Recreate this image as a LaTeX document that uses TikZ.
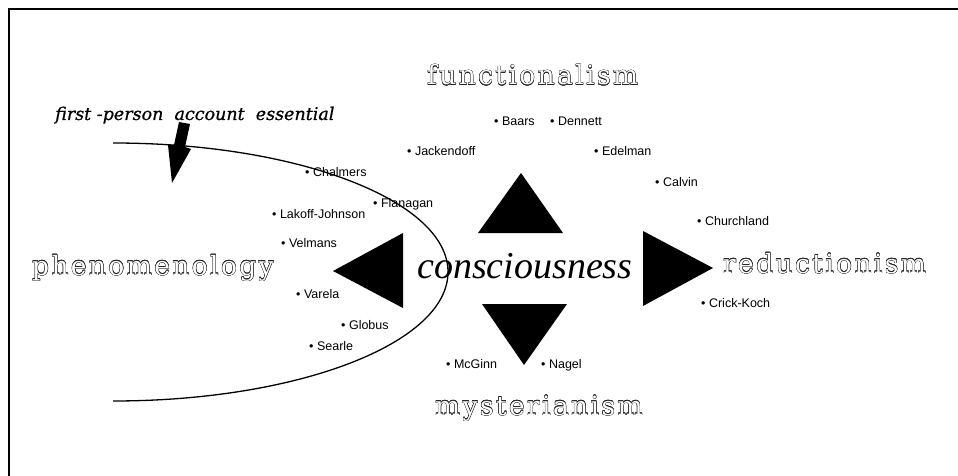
\documentclass[tikz,border=0pt]{standalone}
\usepackage{fontspec}
\usetikzlibrary{calc}
\newfontfamily\namefont{Liberation Sans}
\newfontfamily\outfont[LetterSpace=9]{DejaVu Serif}
\newfontfamily\consfont{Liberation Serif}
\newfontfamily\notefont{DejaVu Serif}[ItalicFeatures={FakeBold=0.7}]
\tikzset{
  person/.style={font=\namefont\fontsize{12.5}{14}\selectfont, anchor=base west, inner sep=0pt},
  oword/.style={font=\outfont\fontsize{26.5}{30}\selectfont, anchor=base west, inner sep=0pt},
  tri/.style={fill=black},
  frameline/.style={line width=2pt},
  oval/.style={line width=1.3pt},
}
\newcommand\outlineword[3]{%
  \foreach \ang in {0,30,...,330} {\node[oword,text=black!85] at ($(#2)+(\ang:0.35pt)$) {#3};}
  \node[oword,text=white] (#1) at (#2) {#3};}
\begin{document}
\begin{tikzpicture}[x=1pt,y=-1pt]
\useasboundingbox (0,0) rectangle (958,476);
\fill[white] (0,0) rectangle (958,476);
% frame (top and left only)
\draw[frameline] (958,9) -- (9,9) -- (9,476);
% half ellipse
\draw[oval] (113,143) arc[start angle=90,end angle=-90,x radius=335pt,y radius=129pt];
% note arrow
\fill (179,122) -- (190,124) -- (185,147) -- (191,149) -- (172,183) -- (168,145) -- (174,145) -- cycle;
\node[font=\notefont\itshape\fontsize{17.5}{20}\selectfont, anchor=base west, inner sep=0pt] (note) at (55,120) {first -person\ \ account\ \ essential};
% triangles
\fill[tri] (521,173) -- (478,233) -- (563,233) -- cycle;
\fill[tri] (482,304) -- (567,304) -- (524,365) -- cycle;
\fill[tri] (333,271) -- (403,233) -- (403,308) -- cycle;
\fill[tri] (643,231) -- (713,268) -- (643,306) -- cycle;
% central word
\node[font=\consfont\itshape\fontsize{38}{44}\selectfont, anchor=base west, inner sep=0pt] (cons) at (417,278) {consciousness};
% outlined words
\outlineword{func}{427,85}{functionalism}
\outlineword{phen}{32,275}{phenomenology}
\outlineword{redu}{723,273}{reductionism}
\outlineword{myst}{435,415}{mysterianism}
% people
\node[person] (baars) at (494,125) {•\ Baars};
\node[person] (dennett) at (550,125) {•\ Dennett};
\node[person] (jack) at (407,156) {•\ Jackendoff};
\node[person] (edel) at (594,156) {•\ Edelman};
\node[person] (calvin) at (655,186) {•\ Calvin};
\node[person] (church) at (697,225) {•\ Churchland};
\node[person] (chalm) at (305,176) {•\ Chalmers};
\node[person] (flan) at (373,207) {•\ Flanagan};
\node[person] (lakoff) at (272,218) {•\ Lakoff-Johnson};
\node[person] (velm) at (281,247) {•\ Velmans};
\node[person] (varela) at (296,298) {•\ Varela};
\node[person] (globus) at (341,329) {•\ Globus};
\node[person] (searle) at (309,350) {•\ Searle};
\node[person] (mcginn) at (446,368) {•\ McGinn};
\node[person] (nagel) at (541,368) {•\ Nagel};
\node[person] (crick) at (701,307) {•\ Crick-Koch};
\end{tikzpicture}
\end{document}
